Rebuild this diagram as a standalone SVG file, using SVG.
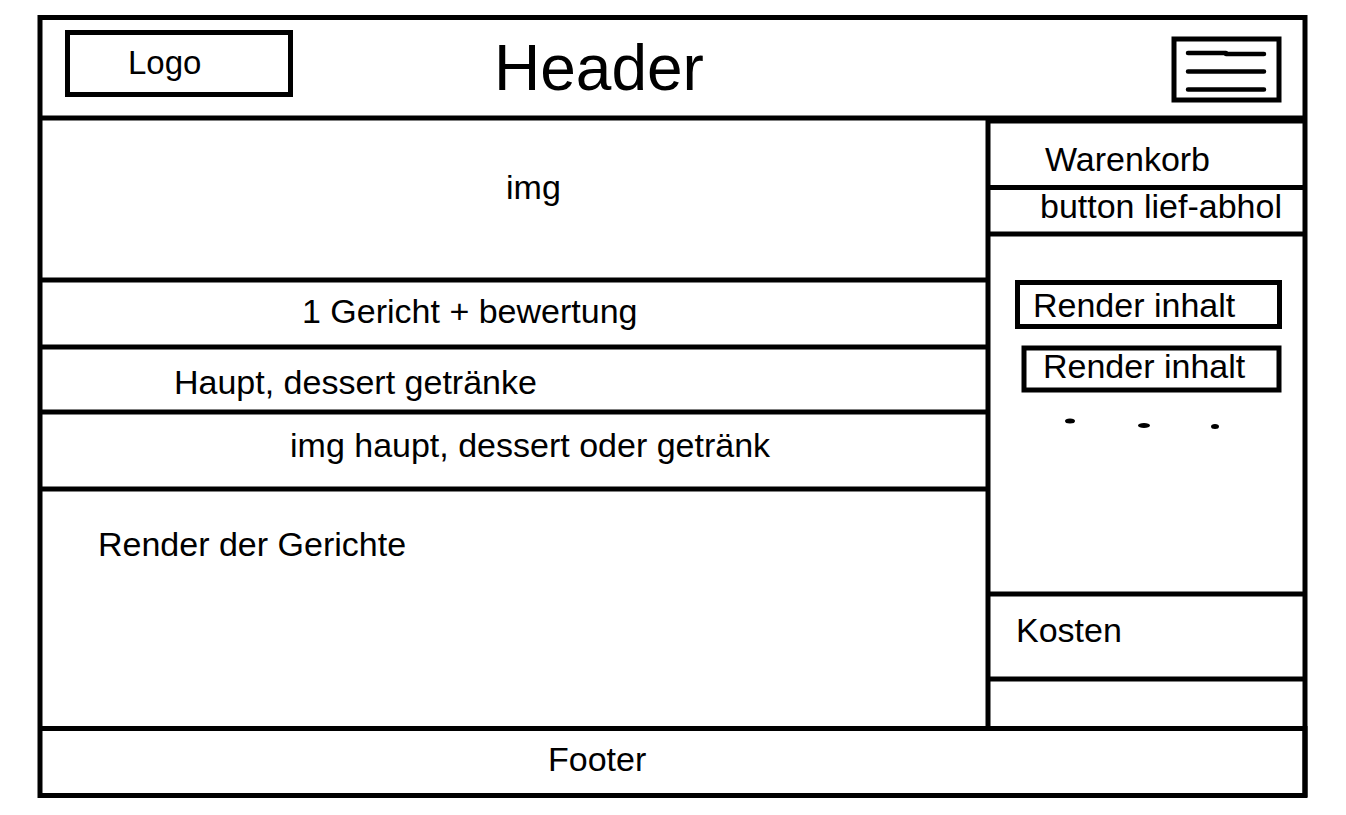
<svg xmlns="http://www.w3.org/2000/svg" width="1346" height="815" viewBox="0 0 1346 815">
<style>
.b{fill:none;stroke:#000;stroke-width:5}
.l{stroke:#000;stroke-width:5;fill:none}
.m{stroke:#000;stroke-width:4.5;stroke-linecap:round;fill:none}
.t{font-family:"Liberation Sans",Arial,sans-serif;font-size:34px;fill:#000}
</style>
<rect width="1346" height="815" fill="#fff"/>
<g id="frame">
<rect class="b" x="40" y="17.5" width="1265" height="778"/>
<line class="l" x1="40" y1="118" x2="1305" y2="118"/>
</g>
<g id="logo">
<rect class="b" x="67.5" y="32.5" width="223" height="62"/>
<text class="t" x="128" y="74" style="font-size:33px">Logo</text>
</g>
<g id="header">
<text class="t" x="494" y="90" style="font-size:64px">Header</text>
</g>
<g id="menu">
<rect class="b" x="1174" y="39" width="105" height="61"/>
<path class="m" d="M1188 53H1226M1226 54H1264M1188 71.5H1264M1188 89.5H1264"/>
</g>
<g id="left-column">
<line class="l" x1="988" y1="118" x2="988" y2="728"/>
<line class="l" x1="40" y1="280" x2="988" y2="280"/>
<line class="l" x1="40" y1="347" x2="988" y2="347"/>
<line class="l" x1="40" y1="412" x2="988" y2="412"/>
<line class="l" x1="40" y1="489" x2="988" y2="489"/>
</g>
<g id="img">
<text class="t" x="506" y="199">img</text>
</g>
<g id="gericht">
<text class="t" x="302" y="323">1 Gericht + bewertung</text>
</g>
<g id="kategorien">
<text class="t" x="174" y="394">Haupt, dessert getränke</text>
</g>
<g id="img-kategorie">
<text class="t" x="290" y="457">img haupt, dessert oder getränk</text>
</g>
<g id="gerichte">
<text class="t" x="98" y="556">Render der Gerichte</text>
</g>
<g id="warenkorb">
<line class="l" x1="988" y1="121" x2="1305" y2="121"/>
<text class="t" x="1045" y="171">Warenkorb</text>
</g>
<g id="button">
<line class="l" x1="988" y1="187.5" x2="1305" y2="187.5"/>
<line class="l" x1="988" y1="234" x2="1305" y2="234"/>
<text class="t" x="1040" y="218">button lief-abhol</text>
</g>
<g id="inhalt1">
<rect class="b" x="1017.5" y="282.5" width="262" height="44"/>
<text class="t" x="1033" y="317">Render inhalt</text>
</g>
<g id="inhalt2">
<rect class="b" x="1024" y="348" width="255" height="42"/>
<text class="t" x="1043" y="378">Render inhalt</text>
</g>
<g id="dots">
<ellipse cx="1070" cy="421" rx="5" ry="2.5"/>
<ellipse cx="1144" cy="425.5" rx="6" ry="2.5"/>
<ellipse cx="1215" cy="426.5" rx="4" ry="2.5"/>
</g>
<g id="kosten">
<line class="l" x1="988" y1="594" x2="1305" y2="594"/>
<line class="l" x1="988" y1="679" x2="1305" y2="679"/>
<text class="t" x="1016" y="642">Kosten</text>
</g>
<g id="footer">
<line class="l" x1="40" y1="728.5" x2="1307" y2="728.5"/>
<line class="l" x1="1305" y1="726" x2="1305" y2="797"/>
<text class="t" x="548" y="771">Footer</text>
</g>
</svg>
